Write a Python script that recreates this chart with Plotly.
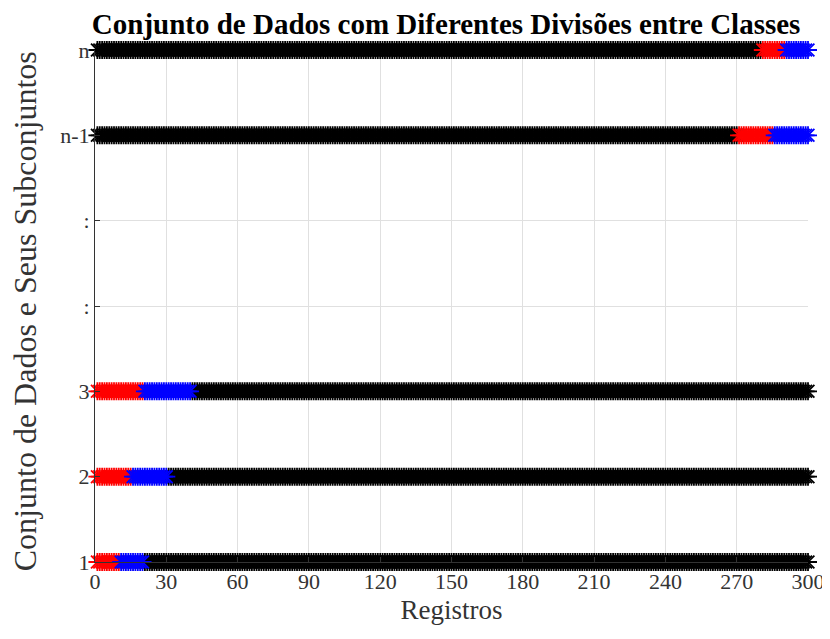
import plotly.graph_objects as go

# rótulos do eixo y (posição 1..7)
subconjuntos = ["1", "2", "3", ":", ":", "n-1", "n"]
n_registros = 300

# faixas (início, fim) de cada classe por subconjunto; None = linha vazia
faixa_vermelha = [(1, 10), (1, 15), (1, 20), None, None, (271, 285), (281, 290)]
faixa_azul = [(11, 20), (16, 30), (21, 40), None, None, (286, 300), (291, 300)]

x_ticks = [0, 30, 60, 90, 120, 150, 180, 210, 240, 270, 300]

pontos = {"black": ([], []), "red": ([], []), "blue": ([], [])}
for i, rotulo in enumerate(subconjuntos):
    if faixa_vermelha[i] is None:
        continue
    pos = i + 1
    for r in range(1, n_registros + 1):
        if faixa_vermelha[i][0] <= r <= faixa_vermelha[i][1]:
            cor = "red"
        elif faixa_azul[i][0] <= r <= faixa_azul[i][1]:
            cor = "blue"
        else:
            cor = "black"
        pontos[cor][0].append(r)
        pontos[cor][1].append(pos)

fig = go.Figure()
for cor, (xs, ys) in pontos.items():
    fig.add_trace(go.Scatter(
        x=xs, y=ys,
        mode="markers",
        cliponaxis=False,
        marker=dict(symbol="asterisk-open", size=15, color=cor, line=dict(color=cor, width=1.8)),
        showlegend=False,
    ))

fig.update_layout(
    width=822,
    height=631,
    margin=dict(l=87, r=22, t=42, b=77),
    plot_bgcolor="white",
    paper_bgcolor="white",
    font=dict(family="Liberation Serif", size=22, color="#333333"),
    title=dict(
        text="<b>Conjunto de Dados com Diferentes Divisões entre Classes</b>",
        x=0.533, xanchor="center", y=0.975, yanchor="middle",
        font=dict(family="Liberation Serif", size=29, color="black"),
    ),
    xaxis=dict(
        range=[0, 300],
        automargin=False,
        tickvals=x_ticks,
        ticks="inside", ticklen=5, tickcolor="#333333",
        showline=True, linecolor="#333333", linewidth=1,
        showgrid=True, gridcolor="#e0e0e0",
        zeroline=False,
        title=dict(text="Registros", standoff=6, font=dict(size=27)),
    ),
    yaxis=dict(
        range=[1, 7],
        automargin=False,
        tickvals=list(range(1, len(subconjuntos) + 1)),
        ticktext=subconjuntos,
        ticks="inside", ticklen=5, tickcolor="#333333",
        showline=True, linecolor="#333333", linewidth=1,
        showgrid=True, gridcolor="#e0e0e0",
        zeroline=False,
    ),
    annotations=[dict(
        text="Conjunto de Dados e Seus Subconjuntos",
        xref="paper", yref="paper", x=-0.098, y=0.49,
        xanchor="center", yanchor="middle", textangle=-90,
        showarrow=False, font=dict(size=32, color="#333333"),
    )],
)

fig.write_html("out.html")
